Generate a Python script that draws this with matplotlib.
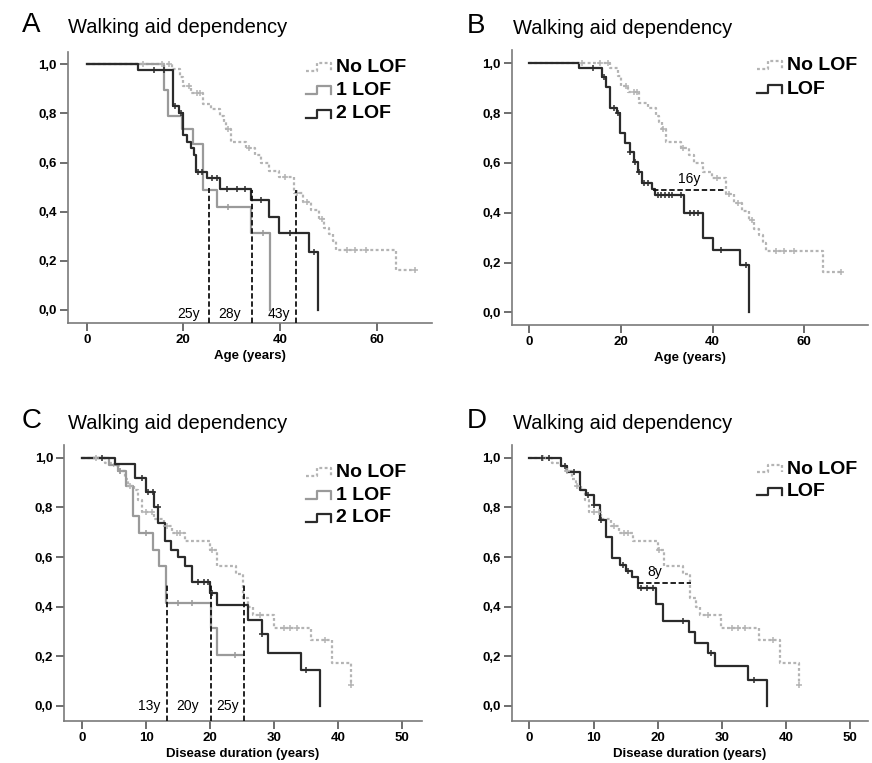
import numpy as np
import matplotlib.pyplot as plt
from matplotlib.lines import Line2D
from matplotlib.ticker import FuncFormatter

plt.rcParams['font.family'] = ['Liberation Sans', 'DejaVu Sans']

W, H = 872, 763

# ---- Kaplan-Meier data (step times, survival after step, censor times) ----
# age, no LOF
nolof_age_t = [17.6, 19.3, 20.0, 21.5, 24.0, 25.8, 27.6, 28.4, 28.9, 29.8, 33.0, 34.9, 36.0, 37.8,
               39.8, 42.9, 44.7, 46.5, 48.0, 49.1, 50.2, 50.9, 51.6, 64.0]
nolof_age_s = [0.98, 0.95, 0.91, 0.885, 0.84, 0.82, 0.79, 0.765, 0.735, 0.685, 0.66, 0.63, 0.60, 0.565,
               0.54, 0.475, 0.44, 0.405, 0.37, 0.335, 0.31, 0.28, 0.245, 0.162]
nolof_age_cens = [11.6, 15.5, 17.1, 21.1, 22.9, 23.5, 29.2, 33.6, 41.0, 43.5, 45.5, 48.6, 53.8, 55.6, 57.8, 68.0]
nolof_age_end = 68.2

# age, 1 LOF
one_age_t = [15.9, 16.9, 19.8, 22.0, 24.1, 27.0, 34.0, 38.0]
one_age_s = [0.895, 0.79, 0.735, 0.675, 0.49, 0.42, 0.315, 0.0]
one_age_cens = [29.3, 36.4]
one_age_end = 38.0

# age, 2 LOF
two_age_t = [10.7, 17.9, 19.2, 19.9, 20.7, 21.5, 22.1, 22.7, 24.8, 27.5, 34.0, 37.8, 39.8, 46.0, 47.9]
two_age_s = [0.977, 0.83, 0.80, 0.712, 0.685, 0.658, 0.631, 0.563, 0.536, 0.493, 0.447, 0.38, 0.315, 0.237, 0.0]
two_age_cens = [13.9, 15.9, 18.3, 19.5, 23.1, 23.8, 25.9, 26.9, 29.0, 31.0, 32.8, 36.0, 42.1, 47.0]
two_age_end = 47.9

# age, LOF (1 + 2)
lof_age_t = [10.8, 15.9, 16.8, 17.7, 19.1, 19.8, 20.9, 21.9, 22.8, 23.7, 24.6, 26.8, 27.5, 33.7, 37.9,
             40.0, 45.9, 48.0]
lof_age_s = [0.982, 0.946, 0.906, 0.82, 0.80, 0.72, 0.68, 0.644, 0.603, 0.565, 0.52, 0.495, 0.47, 0.40, 0.30,
             0.25, 0.188, 0.0]
lof_age_cens = [13.9, 16.3, 18.4, 19.4, 22.0, 23.0, 23.9, 25.0, 26.0, 28.0, 28.8, 29.6, 30.4, 31.2, 33.0,
                35.0, 35.9, 36.9, 41.9, 47.3]
lof_age_end = 48.0

# disease duration, no LOF
nolof_dur_t = [3.6, 4.9, 5.7, 6.6, 7.2, 8.0, 8.7, 9.3, 11.2, 12.8, 14.0, 16.1, 20.0, 21.0, 24.0, 25.1,
               25.9, 26.6, 29.9, 35.8, 39.0, 42.0]
nolof_dur_s = [0.98, 0.965, 0.945, 0.915, 0.885, 0.87, 0.83, 0.78, 0.755, 0.725, 0.695, 0.665, 0.63, 0.565,
               0.53, 0.435, 0.40, 0.365, 0.315, 0.265, 0.175, 0.085]
nolof_dur_cens = [2.2, 5.9, 7.4, 10.0, 10.9, 13.2, 14.8, 15.3, 20.2, 27.8, 31.5, 32.5, 33.6, 37.9, 42.0]
nolof_dur_end = 42.0

# disease duration, 1 LOF
one_dur_t = [4.1, 5.6, 6.9, 7.9, 8.9, 11.0, 12.0, 13.1, 20.1, 21.1]
one_dur_s = [0.97, 0.945, 0.885, 0.765, 0.695, 0.63, 0.565, 0.415, 0.315, 0.205]
one_dur_cens = [5.9, 10.0, 15.0, 17.1, 23.8]
one_dur_end = 25.1

# disease duration, 2 LOF
two_dur_t = [5.1, 8.2, 10.0, 11.2, 11.9, 12.9, 13.9, 15.0, 16.0, 17.1, 20.0, 21.0, 25.9, 28.0, 29.0,
             34.2, 37.1]
two_dur_s = [0.975, 0.92, 0.86, 0.80, 0.735, 0.665, 0.63, 0.60, 0.565, 0.50, 0.455, 0.405, 0.345, 0.29,
             0.215, 0.145, 0.0]
two_dur_cens = [3.0, 9.3, 10.3, 11.05, 11.8, 18.0, 19.0, 19.7, 20.3, 28.1, 35.0]
two_dur_end = 37.1

# disease duration, LOF (1 + 2)
lof_dur_t = [5.0, 5.9, 7.9, 8.9, 10.0, 11.0, 11.9, 12.9, 14.1, 15.0, 16.0, 17.0, 19.8, 20.9, 24.8, 25.8,
             27.9, 28.9, 34.1, 37.0]
lof_dur_s = [0.968, 0.944, 0.87, 0.85, 0.81, 0.75, 0.68, 0.595, 0.568, 0.545, 0.52, 0.475, 0.41, 0.344,
             0.30, 0.255, 0.215, 0.16, 0.105, 0.0]
lof_dur_cens = [2.0, 3.0, 5.5, 6.9, 9.2, 10.1, 11.1, 14.6, 15.4, 17.4, 18.3, 19.3, 24.0, 28.3, 35.0]
lof_dur_end = 37.0

# medians / differences annotated
medians_A = [25.4, 34.1, 43.3]
median_tops_A = [0.495, 0.49, 0.488]
median_labels_A = ['25y', '28y', '43y']
median_label_x_A = [21.1, 29.6, 39.8]
medians_C = [13.2, 20.1, 25.2]
median_labels_C = ['13y', '20y', '25y']
median_label_x_C = [10.4, 16.5, 22.7]
diff_B = (26.9, 42.6, 0.49, '16y', 34.9, 0.535)
diff_D = (16.9, 25.2, 0.494, '8y', 19.6, 0.538)

title = 'Walking aid dependency'
yticks = [0.0, 0.2, 0.4, 0.6, 0.8, 1.0]

NOLOF = dict(color='#b4b4b4', ls=(0, (1.3, 1.1)), lw=1.6)
ONE = dict(color='#9a9a9a', ls='-', lw=1.6)
TWO = dict(color='#2b2b2b', ls='-', lw=1.6)


def level(t, s, c):
    i = np.searchsorted(t, c, side='right')
    return 1.0 if i == 0 else s[i - 1]


def km(ax, t, s, end, cens, style):
    xs = [0] + list(t) + [end]
    ys = [1.0] + list(s) + [s[-1]]
    ax.step(xs, ys, where='post', zorder=3, **style)
    cy = [level(t, s, c) for c in cens]
    ax.plot(cens, cy, ls='none', marker='+', ms=5, mew=1.1, color=style['color'], zorder=4)


def make_axes(fig, left, right, top, bottom, x0px, xunit, y1px, y0px, xticks, xlabel):
    ax = fig.add_axes([left / W, 1 - bottom / H, (right - left) / W, (bottom - top) / H])
    yunit = y0px - y1px
    ax.set_xlim((left - x0px) / xunit, (right - x0px) / xunit)
    ax.set_ylim(-(bottom - y0px) / yunit, 1 + (y1px - top) / yunit)
    for sp in ['top', 'right']:
        ax.spines[sp].set_visible(False)
    for sp in ['left', 'bottom']:
        ax.spines[sp].set_color('#7a7a7a')
        ax.spines[sp].set_linewidth(1.2)
    ax.set_xticks(xticks)
    ax.set_yticks(yticks)
    ax.yaxis.set_major_formatter(FuncFormatter(lambda v, p: f'{v:.1f}'.replace('.', ',')))
    ax.tick_params(length=6, width=1.2, color='#555555', labelsize=9.5)
    ax.tick_params(axis='x', pad=2)
    ax.tick_params(axis='y', pad=2)
    for lab in ax.get_xticklabels() + ax.get_yticklabels():
        lab.set_fontweight('bold')
    ax.set_xlabel(xlabel, fontsize=9.5, fontweight='bold', labelpad=3)
    return ax


def key(fig, x, y, label, style):
    gx = np.array([0, 11, 11, 25, 25]) + x
    gy = np.array([3.5, 3.5, -4.5, -4.5, 3.5]) + y
    fig.add_artist(Line2D(gx / W, 1 - gy / H, transform=fig.transFigure, **style))
    fig.text((x + 30) / W, 1 - y / H, label, fontsize=14, fontweight='bold', va='center', ha='left')


def header(fig, x, y, letter):
    fig.text((x - 46) / W, 1 - (y - 1) / H, letter, fontsize=20, va='baseline', ha='left')
    fig.text(x / W, 1 - y / H, title, fontsize=14.5, va='baseline', ha='left')


fig = plt.figure(figsize=(W / 100, H / 100), dpi=100)

# A
axA = make_axes(fig, 67.7, 432, 51.7, 322.7, 86.7, 4.833, 64.3, 310, [0, 20, 40, 60], 'Age (years)')
km(axA, nolof_age_t, nolof_age_s, nolof_age_end, nolof_age_cens, NOLOF)
km(axA, one_age_t, one_age_s, one_age_end, one_age_cens, ONE)
km(axA, two_age_t, two_age_s, two_age_end, two_age_cens, TWO)
for xm, top, lab, lx in zip(medians_A, median_tops_A, median_labels_A, median_label_x_A):
    axA.plot([xm, xm], [axA.get_ylim()[0], top], color='#111111', ls=(0, (3, 1.5)), lw=1.3, zorder=5)
    axA.text(lx, -0.016, lab, fontsize=10, ha='center', va='center')
header(fig, 68, 33, 'A')
key(fig, 306, 67, 'No LOF', NOLOF)
key(fig, 306, 90.5, '1 LOF', ONE)
key(fig, 306, 114, '2 LOF', TWO)

# B
axB = make_axes(fig, 512, 867.7, 50, 325, 529.3, 4.583, 63.3, 312.3, [0, 20, 40, 60], 'Age (years)')
km(axB, nolof_age_t, nolof_age_s, nolof_age_end, nolof_age_cens, NOLOF)
km(axB, lof_age_t, lof_age_s, lof_age_end, lof_age_cens, TWO)
x0, x1, yd, lab, lx, ly = diff_B
axB.plot([x0, x1], [yd, yd], color='#111111', ls=(0, (3, 1.5)), lw=1.3, zorder=5)
axB.text(lx, ly, lab, fontsize=10, ha='center', va='center')
header(fig, 513, 34, 'B')
key(fig, 757, 65, 'No LOF', NOLOF)
key(fig, 757, 89, 'LOF', TWO)

# C
axC = make_axes(fig, 64.3, 421.7, 445, 720.7, 82.3, 6.4, 457.7, 706, [0, 10, 20, 30, 40, 50],
                'Disease duration (years)')
km(axC, nolof_dur_t, nolof_dur_s, nolof_dur_end, nolof_dur_cens, NOLOF)
km(axC, one_dur_t, one_dur_s, one_dur_end, one_dur_cens, ONE)
km(axC, two_dur_t, two_dur_s, two_dur_end, two_dur_cens, TWO)
for xm, lab, lx in zip(medians_C, median_labels_C, median_label_x_C):
    axC.plot([xm, xm], [axC.get_ylim()[0], 0.49], color='#111111', ls=(0, (3, 1.5)), lw=1.3, zorder=5)
    axC.text(lx, 0.0, lab, fontsize=10, ha='center', va='center')
header(fig, 68, 429, 'C')
key(fig, 306, 472, 'No LOF', NOLOF)
key(fig, 306, 495, '1 LOF', ONE)
key(fig, 306, 518, '2 LOF', TWO)

# D
axD = make_axes(fig, 512, 867.7, 445, 720.7, 529.3, 6.42, 457.7, 706, [0, 10, 20, 30, 40, 50],
                'Disease duration (years)')
km(axD, nolof_dur_t, nolof_dur_s, nolof_dur_end, nolof_dur_cens, NOLOF)
km(axD, lof_dur_t, lof_dur_s, lof_dur_end, lof_dur_cens, TWO)
x0, x1, yd, lab, lx, ly = diff_D
axD.plot([x0, x1], [yd, yd], color='#111111', ls=(0, (3, 1.5)), lw=1.3, zorder=5)
axD.text(lx, ly, lab, fontsize=10, ha='center', va='center')
header(fig, 513, 429, 'D')
key(fig, 757, 469, 'No LOF', NOLOF)
key(fig, 757, 492, 'LOF', TWO)

fig.savefig('out.png', dpi=100)
